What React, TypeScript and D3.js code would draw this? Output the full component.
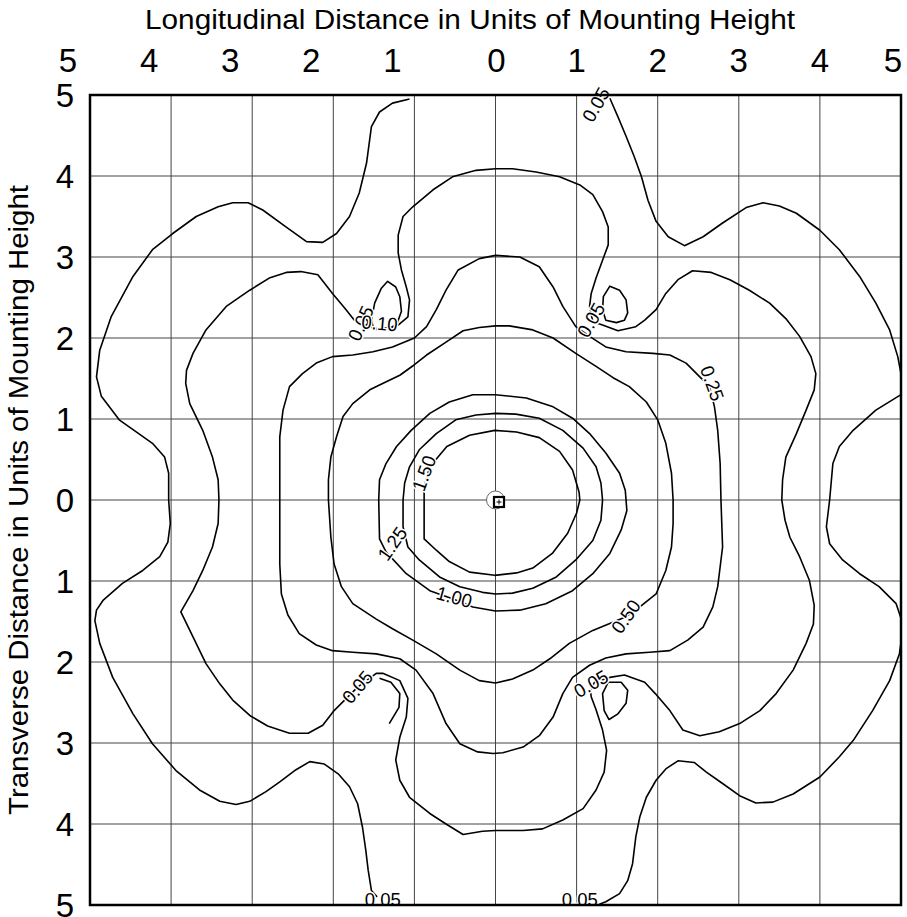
import React from 'react';
import * as d3 from 'd3';

type Pt = [number, number];

// tick values (labels are shown as distances, i.e. without sign)
const xTicks = [-5, -4, -3, -2, -1, 0, 1, 2, 3, 4, 5];
const yTicks = [5, 4, 3, 2, 1, 0, -1, -2, -3, -4, -5];

// isolux lines, in units of mounting height (x longitudinal, y transverse)
const c150: Pt[] = [[-0.01,0.86],[0.26,0.84],[0.54,0.77],[0.79,0.6],[0.95,0.37],[1.03,0.1],[1.04,0],[1.0,-0.16],[0.89,-0.41],[0.7,-0.66],[0.46,-0.84],[0.26,-0.9],[-0.01,-0.93],[-0.32,-0.89],[-0.57,-0.76],[-0.73,-0.62],[-0.88,-0.48],[-0.88,-0.16],[-0.88,0.16],[-0.81,0.41],[-0.6,0.66],[-0.32,0.8]];
const c125: Pt[] = [[0,1.07],[0.25,1.06],[0.54,1.01],[0.83,0.86],[1.08,0.64],[1.24,0.41],[1.3,0.21],[1.32,0],[1.3,-0.25],[1.2,-0.5],[0.99,-0.74],[0.75,-0.95],[0.46,-1.09],[0.21,-1.15],[0,-1.16],[-0.16,-1.14],[-0.44,-1.07],[-0.69,-0.95],[-0.94,-0.74],[-1.08,-0.58],[-1.14,-0.33],[-1.14,0],[-1.12,0.21],[-1.06,0.41],[-0.94,0.62],[-0.73,0.82],[-0.49,0.99],[-0.24,1.05]];
const c100: Pt[] = [[0,1.3],[0.38,1.26],[0.71,1.15],[0.95,1.01],[1.16,0.82],[1.36,0.58],[1.53,0.33],[1.6,0.12],[1.62,-0.13],[1.55,-0.37],[1.41,-0.66],[1.2,-0.91],[0.95,-1.12],[0.62,-1.28],[0.3,-1.36],[0,-1.37],[-0.28,-1.32],[-0.53,-1.22],[-0.81,-1.12],[-1.1,-0.91],[-1.35,-0.64],[-1.43,-0.48],[-1.44,0],[-1.43,0.25],[-1.35,0.45],[-1.22,0.66],[-1.04,0.86],[-0.81,1.07],[-0.57,1.21],[-0.28,1.3]];
const c050: Pt[] = [[0,2.15],[0.17,2.15],[0.46,2.1],[0.71,2.0],[0.99,1.81],[1.24,1.65],[1.45,1.51],[1.65,1.4],[1.86,1.21],[2.0,0.99],[2.1,0.7],[2.17,0.33],[2.19,0],[2.19,-0.29],[2.17,-0.58],[2.1,-0.87],[1.98,-1.16],[1.78,-1.32],[1.61,-1.44],[1.2,-1.61],[0.91,-1.77],[0.67,-1.96],[0.46,-2.1],[0.21,-2.21],[0,-2.26],[-0.2,-2.23],[-0.44,-2.1],[-0.73,-1.9],[-1.02,-1.73],[-1.27,-1.59],[-1.47,-1.47],[-1.76,-1.28],[-1.9,-1.07],[-1.99,-0.79],[-2.03,-0.46],[-2.06,0],[-2.06,0.25],[-2.03,0.53],[-1.96,0.78],[-1.88,1.03],[-1.76,1.19],[-1.55,1.36],[-1.43,1.42],[-1.18,1.54],[-1.0,1.67],[-0.85,1.79],[-0.61,1.95],[-0.4,2.09],[-0.2,2.13]];
const c025: Pt[] = [[0,3.02],[0.3,3.0],[0.54,2.88],[0.71,2.63],[0.83,2.39],[0.99,2.14],[1.16,2.02],[1.36,1.89],[1.61,1.83],[1.94,1.81],[2.15,1.79],[2.35,1.69],[2.51,1.53],[2.64,1.4],[2.7,1.15],[2.74,0.86],[2.77,0.45],[2.78,0],[2.8,-0.58],[2.74,-1.07],[2.68,-1.32],[2.56,-1.57],[2.37,-1.73],[2.15,-1.86],[1.9,-1.88],[1.61,-1.9],[1.36,-1.95],[1.16,-2.04],[0.95,-2.19],[0.83,-2.39],[0.71,-2.68],[0.54,-2.91],[0.34,-3.05],[0.09,-3.12],[-0.03,-3.13],[-0.22,-3.11],[-0.44,-3.01],[-0.61,-2.76],[-0.77,-2.39],[-0.98,-2.1],[-1.18,-1.96],[-1.47,-1.9],[-1.76,-1.88],[-2.01,-1.86],[-2.21,-1.79],[-2.42,-1.65],[-2.56,-1.42],[-2.64,-1.16],[-2.66,-0.79],[-2.66,0],[-2.66,0.41],[-2.66,0.78],[-2.62,1.11],[-2.54,1.4],[-2.38,1.56],[-2.21,1.69],[-2.01,1.77],[-1.76,1.79],[-1.51,1.83],[-1.27,1.89],[-1.0,2.0],[-0.85,2.14],[-0.73,2.35],[-0.61,2.59],[-0.46,2.84],[-0.2,2.98]];
const c010: Pt[] = [[0,4.09],[0.21,4.09],[0.5,4.05],[0.79,3.99],[1.04,3.89],[1.2,3.77],[1.32,3.56],[1.39,3.37],[1.39,3.15],[1.32,2.96],[1.24,2.74],[1.18,2.55],[1.16,2.39],[1.2,2.2],[1.32,2.16],[1.51,2.09],[1.73,2.14],[1.84,2.22],[1.98,2.35],[2.1,2.55],[2.25,2.72],[2.43,2.83],[2.66,2.81],[2.89,2.72],[3.13,2.59],[3.38,2.43],[3.58,2.24],[3.75,2.02],[3.89,1.77],[3.95,1.56],[3.93,1.36],[3.83,1.11],[3.71,0.82],[3.58,0.53],[3.54,0.25],[3.53,0],[3.57,-0.25],[3.63,-0.46],[3.75,-0.7],[3.87,-0.99],[3.93,-1.3],[3.92,-1.53],[3.83,-1.77],[3.67,-2.1],[3.46,-2.39],[3.26,-2.6],[3.01,-2.76],[2.76,-2.86],[2.52,-2.91],[2.31,-2.84],[2.15,-2.6],[1.97,-2.39],[1.84,-2.25],[1.59,-2.16],[1.41,-2.19],[1.22,-2.25],[1.17,-2.35],[1.18,-2.43],[1.24,-2.59],[1.32,-2.84],[1.37,-3.09],[1.34,-3.36],[1.24,-3.58],[1.08,-3.81],[0.83,-3.95],[0.58,-4.06],[0.34,-4.08],[0,-4.08],[-0.16,-4.09],[-0.4,-4.13],[-0.61,-4.0],[-0.81,-3.87],[-1.06,-3.67],[-1.18,-3.46],[-1.23,-3.21],[-1.18,-2.93],[-1.1,-2.68],[-1.08,-2.45],[-1.18,-2.23],[-1.39,-2.14],[-1.47,-2.14],[-1.7,-2.31],[-1.99,-2.6],[-2.13,-2.78],[-2.31,-2.88],[-2.54,-2.88],[-2.81,-2.79],[-3.03,-2.66],[-3.24,-2.47],[-3.4,-2.27],[-3.57,-2.02],[-3.73,-1.69],[-3.88,-1.38],[-3.73,-1.12],[-3.61,-0.87],[-3.49,-0.58],[-3.42,-0.29],[-3.41,0],[-3.42,0.25],[-3.49,0.53],[-3.61,0.86],[-3.77,1.19],[-3.82,1.44],[-3.81,1.6],[-3.73,1.81],[-3.57,2.1],[-3.32,2.39],[-3.03,2.59],[-2.79,2.74],[-2.58,2.81],[-2.4,2.82],[-2.19,2.78],[-2.01,2.55],[-1.86,2.37],[-1.74,2.22],[-1.5,2.12],[-1.27,2.13],[-1.2,2.16],[-1.08,2.26],[-1.06,2.47],[-1.1,2.63],[-1.16,2.84],[-1.2,3.05],[-1.2,3.27],[-1.14,3.5],[-1.02,3.62],[-0.77,3.83],[-0.53,3.99],[-0.24,4.07]];
// 0.05 line leaves the field, so it is drawn as three open pieces
const c005a: Pt[] = [[-1.46,-4.9],[-1.53,-4.82],[-1.57,-4.57],[-1.6,-4.32],[-1.64,-4.04],[-1.7,-3.75],[-1.8,-3.54],[-1.94,-3.38],[-2.11,-3.26],[-2.29,-3.23],[-2.46,-3.33],[-2.66,-3.48],[-2.83,-3.6],[-3.03,-3.72],[-3.2,-3.76],[-3.4,-3.72],[-3.65,-3.58],[-3.94,-3.34],[-4.23,-3.01],[-4.47,-2.64],[-4.72,-2.19],[-4.88,-1.77],[-4.94,-1.49],[-4.92,-1.36],[-4.84,-1.24],[-4.6,-1.03],[-4.35,-0.87],[-4.14,-0.7],[-4.04,-0.52],[-4.01,-0.29],[-4.03,0],[-4.03,0.33],[-4.08,0.53],[-4.23,0.7],[-4.43,0.84],[-4.64,0.99],[-4.86,1.28],[-4.92,1.52],[-4.88,1.85],[-4.74,2.26],[-4.47,2.76],[-4.23,3.09],[-3.98,3.29],[-3.69,3.5],[-3.42,3.62],[-3.24,3.67],[-3.05,3.67],[-2.87,3.58],[-2.58,3.37],[-2.33,3.19],[-2.13,3.18],[-1.96,3.29],[-1.8,3.5],[-1.68,3.79],[-1.59,4.16],[-1.53,4.61],[-1.43,4.79],[-1.27,4.9],[-1.06,4.95]];
const c005b: Pt[] = [[1.41,4.96],[1.51,4.73],[1.61,4.49],[1.71,4.24],[1.8,3.99],[1.88,3.7],[1.98,3.44],[2.13,3.25],[2.33,3.14],[2.56,3.25],[2.8,3.42],[3.09,3.61],[3.3,3.67],[3.5,3.63],[3.71,3.54],[4.0,3.33],[4.24,3.09],[4.49,2.76],[4.69,2.43],[4.86,2.1],[4.96,1.77],[5.03,1.4]];
const c005c: Pt[] = [[5.03,1.32],[4.69,1.11],[4.41,0.86],[4.24,0.66],[4.16,0.45],[4.12,0],[4.08,-0.33],[4.12,-0.54],[4.28,-0.74],[4.49,-0.91],[4.73,-1.07],[4.94,-1.28],[5.01,-1.49],[5.01,-1.69],[4.98,-1.9],[4.86,-2.23],[4.65,-2.6],[4.41,-2.97],[4.24,-3.17],[4.0,-3.42],[3.67,-3.63],[3.42,-3.73],[3.21,-3.74],[3.01,-3.65],[2.8,-3.5],[2.6,-3.36],[2.45,-3.24],[2.25,-3.22],[2.1,-3.32],[1.98,-3.46],[1.86,-3.67],[1.78,-3.91],[1.73,-4.16],[1.69,-4.49],[1.63,-4.7],[1.53,-4.86],[1.36,-4.96],[1.28,-4.99]];
// small 0.05 islands
const loopTL: Pt[] = [[-1.33,2.7],[-1.23,2.63],[-1.18,2.51],[-1.16,2.33],[-1.22,2.16],[-1.35,2.11],[-1.5,2.1],[-1.53,2.22],[-1.49,2.43],[-1.41,2.61]];
const loopTR: Pt[] = [[1.41,2.64],[1.53,2.59],[1.61,2.47],[1.63,2.31],[1.59,2.22],[1.49,2.19],[1.36,2.22],[1.32,2.35],[1.33,2.51]];
const loopBR: Pt[] = [[1.39,-2.25],[1.55,-2.25],[1.63,-2.35],[1.61,-2.51],[1.51,-2.64],[1.4,-2.71],[1.34,-2.6],[1.32,-2.39]];
const hookBL: Pt[] = [[-1.43,-2.2],[-1.29,-2.25],[-1.18,-2.39],[-1.19,-2.56],[-1.31,-2.76]];

const closedLines = [c150, c125, c100, c050, c025, c010, loopTL, loopTR, loopBR];
const openLines = [c005a, c005b, c005c, hookBL];

// contour labels: text, position, angle
const labelText = ['0.05', '0.05', '0.10', '0.05', '0.25', '1.50', '1.25', '1.00', '0.50', '0.05', '0.05', '0.05', '0.05'];
const labelPos: Pt[] = [[1.24,4.88],[-1.66,2.18],[-1.43,2.18],[1.18,2.22],[2.67,1.44],[-0.88,0.33],[-1.27,-0.54],[-0.51,-1.2],[1.61,-1.44],[-1.7,-2.31],[1.18,-2.27],[-1.39,-4.93],[1.04,-4.93]];
const labelAngle = [-60, -65, 5, -60, 70, -70, -55, 15, -55, -50, -30, 0, 0];

const W = 907;
const H = 917;
const font = '"Liberation Sans", Arial, sans-serif';

export default function App() {
  const x = d3.scaleLinear().domain([-5, 5]).range([90, 901]);
  const y = d3.scaleLinear().domain([-5, 5]).range([905, 95]);
  const line = d3.line<Pt>().x(d => x(d[0])).y(d => y(d[1]));
  const closed = d3.line<Pt>().x(d => x(d[0])).y(d => y(d[1])).curve(d3.curveLinearClosed);

  // the left-hand top labels sit a little left of their grid line
  const xLabelShift = (v: number) => (v < 0 ? -22 : v === 5 ? -8 : v === 0 ? 1 : 0);

  return (
    <svg width={W} height={H} style={{ position: 'absolute', left: 0, top: 0, background: '#fff' }} fontFamily={font}>
      <defs>
        <clipPath id="plot">
          <rect x={x(-5)} y={y(5)} width={x(5) - x(-5)} height={y(-5) - y(5)} />
        </clipPath>
      </defs>
      <rect width={W} height={H} fill="#fff" />

      {/* grid */}
      {xTicks.map(v => (
        <line key={'gx' + v} x1={x(v)} x2={x(v)} y1={y(5)} y2={y(-5)} stroke="#444" strokeWidth={1} />
      ))}
      {yTicks.map(v => (
        <line key={'gy' + v} x1={x(-5)} x2={x(5)} y1={y(v)} y2={y(v)} stroke="#444" strokeWidth={1} />
      ))}

      <g clipPath="url(#plot)" fill="none" stroke="#000" strokeWidth={1.6} strokeLinejoin="round">
        {closedLines.map((c, i) => <path key={'c' + i} d={closed(c) || ''} />)}
        {openLines.map((c, i) => <path key={'o' + i} d={line(c) || ''} />)}
      </g>

      {/* luminaire position */}
      <circle cx={x(0)} cy={y(0)} r={9} fill="#fff" stroke="#666" strokeWidth={1} />
      <rect x={x(0) - 1.5} y={y(0) - 3} width={10} height={10} fill="#fff" stroke="#000" strokeWidth={2.2} />
      <path d={`M${x(0) + 1},${y(0) + 2}h5M${x(0) + 3.5},${y(0) - 0.5}v5`} stroke="#000" strokeWidth={1} />

      {/* contour labels */}
      {labelText.map((t, i) => (
        <text
          key={'l' + i}
          transform={`translate(${x(labelPos[i][0])},${y(labelPos[i][1])}) rotate(${labelAngle[i]})`}
          textAnchor="middle"
          dominantBaseline="central"
          fontSize={19}
          textLength={36}
          lengthAdjust="spacingAndGlyphs"
          fill="#000"
          stroke="#fff"
          strokeWidth={3}
          paintOrder="stroke"
        >
          {t}
        </text>
      ))}

      {/* frame */}
      <rect x={x(-5)} y={y(5)} width={x(5) - x(-5)} height={y(-5) - y(5)} fill="none" stroke="#000" strokeWidth={2.5} />

      {/* axis numbers */}
      {xTicks.map(v => (
        <text key={'tx' + v} x={x(v) + xLabelShift(v)} y={72} textAnchor="middle" fontSize={33} fill="#000">
          {Math.abs(v)}
        </text>
      ))}
      {yTicks.map(v => (
        <text key={'ty' + v} x={65} y={y(v)} textAnchor="middle" dominantBaseline="central" fontSize={33} fill="#000">
          {Math.abs(v)}
        </text>
      ))}

      <text x={470} y={29} textAnchor="middle" fontSize={27} textLength={650} lengthAdjust="spacingAndGlyphs" fill="#000">
        Longitudinal Distance in Units of Mounting Height
      </text>
      <text
        transform={`translate(19,${y(0)}) rotate(-90)`}
        textAnchor="middle"
        dominantBaseline="central"
        fontSize={27}
        textLength={630}
        lengthAdjust="spacingAndGlyphs"
        fill="#000"
      >
        Transverse Distance in Units of Mounting Height
      </text>
    </svg>
  );
}
